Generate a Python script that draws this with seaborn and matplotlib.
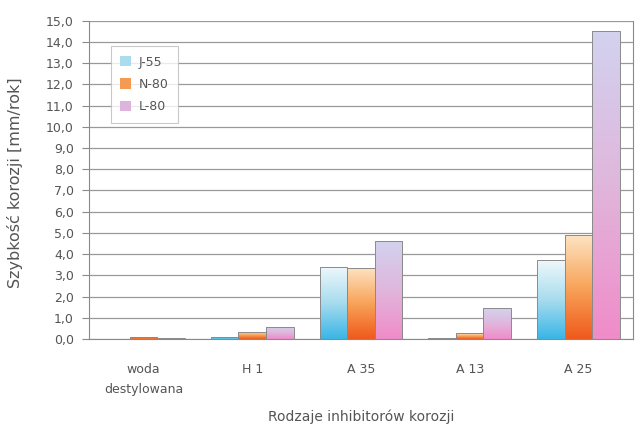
import numpy as np
import pandas as pd
import matplotlib.pyplot as plt
import seaborn as sns
from matplotlib.colors import LinearSegmentedColormap
from matplotlib.patches import Patch

# data
categories = ['woda\ndestylowana', 'H 1', 'A 35', 'A 13', 'A 25']
steels = ['J-55', 'N-80', 'L-80']
j55 = [0.02, 0.10, 3.40, 0.05, 3.70]
n80 = [0.10, 0.35, 3.35, 0.28, 4.90]
l80 = [0.05, 0.57, 4.60, 1.45, 14.50]
yticks = np.arange(0, 15.5, 1.0)

df = pd.DataFrame({
    'kategoria': categories * 3,
    'stal': sum([[s] * len(categories) for s in steels], []),
    'v': j55 + n80 + l80,
})

# gradient top -> bottom for each series
grads = {
    'J-55': ['#eef8fb', '#a8dcee', '#3ab6e6'],
    'N-80': ['#fde3c2', '#f8a45a', '#ef5a1c'],
    'L-80': ['#d2d2ee', '#e0b6dc', '#f08cc8'],
}
solid = {'J-55': '#a9dcee', 'N-80': '#f59a52', 'L-80': '#dcb4dc'}
txt = '#555555'

sns.set_style('white')
fig = plt.figure(figsize=(6.36, 4.34), dpi=100)
ax = fig.add_axes([0.14, 0.219, 0.855, 0.733])

sns.barplot(data=df, x='kategoria', y='v', hue='stal', hue_order=steels,
            palette=solid, width=0.76, ax=ax, legend=False, saturation=1)

for cont, s in zip(ax.containers, steels):
    cmap = LinearSegmentedColormap.from_list(s, grads[s])
    for p in cont.patches:
        x0, y0 = p.get_x(), p.get_y()
        w, h = p.get_width(), p.get_height()
        if h <= 0:
            continue
        p.set_facecolor('none')
        p.set_edgecolor('#8a8a8a')
        p.set_linewidth(0.7)
        grad = np.linspace(1, 0, 100).reshape(-1, 1)
        im = ax.imshow(grad, cmap=cmap, extent=[x0, x0 + w, y0, y0 + h],
                       aspect='auto', origin='lower', zorder=p.get_zorder() - 0.1)
        im.set_clip_path(p)

ax.set_xlim(-0.5, 4.5)
ax.set_ylim(0, 15)
ax.set_yticks(yticks)
ax.set_yticklabels([f'{v:.1f}'.replace('.', ',') for v in yticks])
ax.yaxis.grid(True, color='#999999', linewidth=0.9)
ax.set_axisbelow(True)
for side in ['left', 'bottom', 'right']:
    ax.spines[side].set_color('#8a8a8a')
ax.spines['top'].set_visible(False)
ax.tick_params(axis='y', length=5, color='#8a8a8a', labelsize=9, labelcolor=txt, pad=6, left=True)
ax.tick_params(axis='x', length=0, labelsize=9, labelcolor=txt, pad=17)
for t in ax.get_xticklabels():
    t.set_linespacing(1.7)

ax.set_ylabel('Szybkość korozji [mm/rok]', fontsize=11.5, color=txt)
ax.yaxis.set_label_coords(-0.121, 0.49)
ax.set_xlabel('Rodzaje inhibitorów korozji', fontsize=10, color=txt, va='center')
ax.xaxis.set_label_coords(0.5, -0.245)

handles = [Patch(facecolor=solid[s], edgecolor='none', label=s) for s in steels]
leg = ax.legend(handles=handles, loc='upper left', bbox_to_anchor=(0.028, 0.94),
                fontsize=9, frameon=True, fancybox=False, handlelength=0.9,
                handleheight=0.9, handletextpad=0.6, borderpad=0.75, labelspacing=0.75)
leg.get_frame().set_edgecolor('#bbbbbb')
leg.get_frame().set_linewidth(0.8)
for t in leg.get_texts():
    t.set_color(txt)

fig.savefig('out.png', dpi=100)
